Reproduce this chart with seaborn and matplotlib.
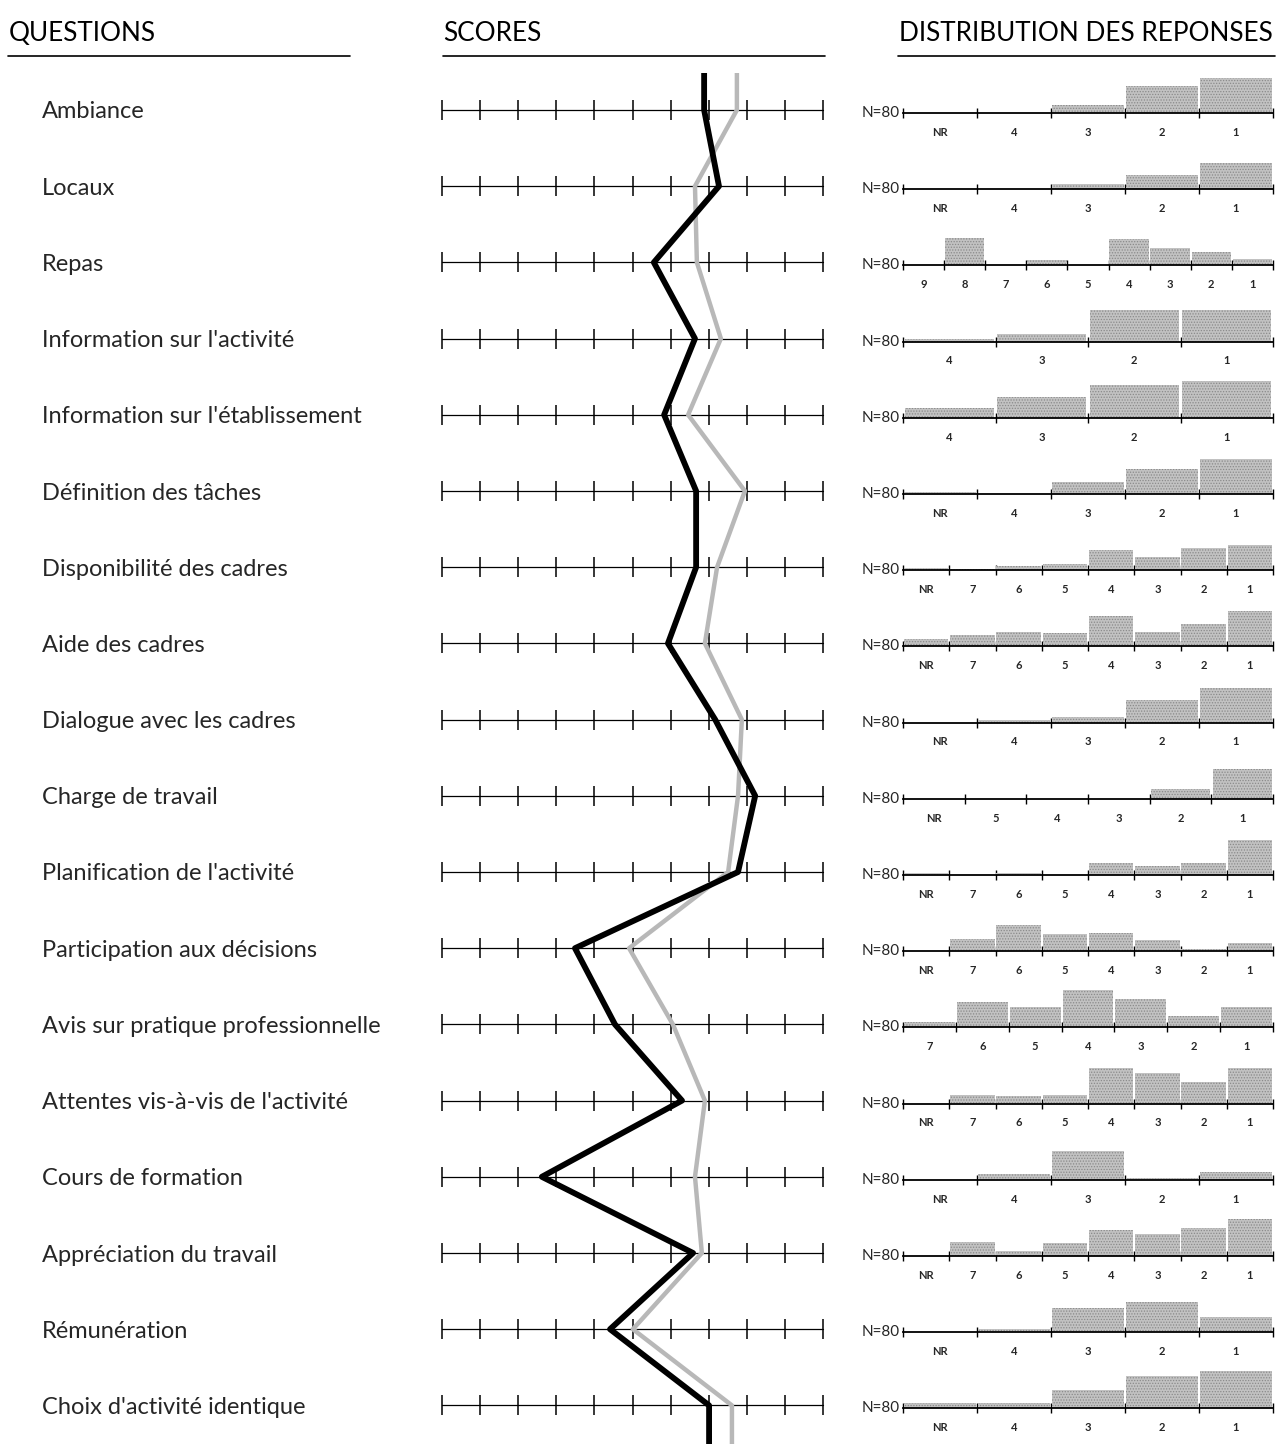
import numpy as np
import pandas as pd
import matplotlib
matplotlib.use("Agg")
import matplotlib.pyplot as plt
import matplotlib.transforms as mtransforms
from matplotlib.lines import Line2D
import seaborn as sns

sns.set_theme(style="white")
plt.rcParams['font.family'] = ['Lato', 'DejaVu Sans']
plt.rcParams['hatch.linewidth'] = 0.6

# Questions (one row each)
questions = [
    "Ambiance", "Locaux", "Repas", "Information sur l'activité",
    "Information sur l'établissement", "Définition des tâches",
    "Disponibilité des cadres", "Aide des cadres", "Dialogue avec les cadres",
    "Charge de travail", "Planification de l'activité",
    "Participation aux décisions", "Avis sur pratique professionnelle",
    "Attentes vis-à-vis de l'activité", "Cours de formation",
    "Appréciation du travail", "Rémunération", "Choix d'activité identique",
]

# Scores on a 0-10 scale
scores_black = [6.88, 7.27, 5.56, 6.64, 5.83, 6.67, 6.67, 5.93, 7.17,
                8.22, 7.77, 3.49, 4.54, 6.30, 2.62, 6.59, 4.41, 7.01]
scores_gray = [7.74, 6.64, 6.69, 7.32, 6.46, 7.95, 7.22, 6.90, 7.87,
               7.77, 7.51, 4.91, 6.06, 6.90, 6.64, 6.82, 5.01, 7.61]

# Distribution of answers: categories and bar heights per question
dist_cats = [
    ["NR", "4", "3", "2", "1"],
    ["NR", "4", "3", "2", "1"],
    ["9", "8", "7", "6", "5", "4", "3", "2", "1"],
    ["4", "3", "2", "1"],
    ["4", "3", "2", "1"],
    ["NR", "4", "3", "2", "1"],
    ["NR", "7", "6", "5", "4", "3", "2", "1"],
    ["NR", "7", "6", "5", "4", "3", "2", "1"],
    ["NR", "4", "3", "2", "1"],
    ["NR", "5", "4", "3", "2", "1"],
    ["NR", "7", "6", "5", "4", "3", "2", "1"],
    ["NR", "7", "6", "5", "4", "3", "2", "1"],
    ["7", "6", "5", "4", "3", "2", "1"],
    ["NR", "7", "6", "5", "4", "3", "2", "1"],
    ["NR", "4", "3", "2", "1"],
    ["NR", "7", "6", "5", "4", "3", "2", "1"],
    ["NR", "4", "3", "2", "1"],
    ["NR", "4", "3", "2", "1"],
]
dist_vals = [
    [0, 0, 8, 27, 35],
    [0, 0, 5, 14, 26],
    [0, 27, 0, 5, 0, 26, 17, 13, 6],
    [3, 8, 32, 32],
    [10, 21, 33, 37],
    [2, 0, 12, 25, 35],
    [2, 1, 4, 6, 20, 13, 22, 25],
    [7, 11, 14, 13, 30, 14, 22, 35],
    [0, 3, 6, 23, 35],
    [0, 0, 0, 0, 10, 30],
    [2, 0, 2, 0, 12, 9, 12, 35],
    [0, 12, 26, 17, 18, 11, 2, 8],
    [5, 25, 20, 37, 28, 11, 20],
    [0, 9, 8, 9, 36, 31, 22, 36],
    [0, 6, 29, 2, 8],
    [0, 14, 5, 13, 26, 22, 28, 37],
    [0, 3, 24, 30, 15],
    [5, 5, 18, 32, 37],
]
n_label = "N=80"

W, H = 1277, 1444
fig = plt.figure(figsize=(W / 100, H / 100), dpi=100)

def fx(px):
    return px / W

def fy(py):
    return 1 - py / H

row0, row_step = 110, 76.2
n_rows = len(questions)
rows = np.arange(n_rows)

# headers
head_kw = dict(fontsize=18.8, va='center_baseline', color='black')
fig.text(fx(9), fy(31), "QUESTIONS", ha='left', **head_kw)
fig.text(fx(443), fy(31), "SCORES", ha='left', **head_kw)
fig.text(fx(1273), fy(31), "DISTRIBUTION DES REPONSES", ha='right', **head_kw)
for x0, x1 in [(8, 350), (443, 825), (898, 1275)]:
    fig.add_artist(Line2D([fx(x0), fx(x1)], [fy(56), fy(56)], color='black', lw=1.2))

# scores panel
top_px, bot_px = 73, 1444
ax = fig.add_axes([fx(442), 0, fx(823) - fx(442), fy(top_px)])
ax.set_xlim(0, 10)
ax.set_ylim((bot_px - row0) / row_step, (top_px - row0) / row_step)
ax.axis('off')

ticks = np.arange(11)
for r in rows:
    ax.plot(ticks, np.full(ticks.size, r), color='black', lw=0.9,
            marker='|', ms=15, mew=1.1, clip_on=False)

y_lo, y_hi = ax.get_ylim()
line_y = np.concatenate([[y_hi], rows, [y_lo]])
df = pd.DataFrame({
    'y': np.concatenate([line_y, line_y]),
    'score': np.concatenate([[scores_gray[0]], scores_gray, [scores_gray[-1]],
                             [scores_black[0]], scores_black, [scores_black[-1]]]),
    'serie': ['gray'] * len(line_y) + ['black'] * len(line_y),
})
sns.lineplot(data=df[df.serie == 'gray'], x='score', y='y', sort=False, estimator=None,
             color='#b8b8b8', lw=3.2, ax=ax, legend=False)
sns.lineplot(data=df[df.serie == 'black'], x='score', y='y', sort=False, estimator=None,
             color='black', lw=4.2, ax=ax, legend=False)
ax.set_xlim(0, 10)
ax.set_ylim(y_lo, y_hi)
ax.axis('off')

# question labels
trans = mtransforms.blended_transform_factory(fig.transFigure, ax.transData)
for r, q in zip(rows, questions):
    ax.text(fx(42), r, q, transform=trans, ha='left', va='center_baseline', fontsize=17)

# distribution panels
for r, cats, vals in zip(rows, dist_cats, dist_vals):
    base_px = row0 + row_step * r + 3
    hx = fig.add_axes([fx(903), fy(base_px), fx(1273) - fx(903), 40 / H])
    hdf = pd.DataFrame({'cat': cats, 'val': vals})
    sns.barplot(data=hdf, x='cat', y='val', order=cats, color='#c2c2c2', width=0.96,
                saturation=1, ax=hx, edgecolor='#8a8a8a', linewidth=0, hatch='......')
    n = len(cats)
    hx.set_xlim(-0.5, n - 0.5)
    hx.set_ylim(0, 40)
    for s in ['top', 'right', 'left']:
        hx.spines[s].set_visible(False)
    hx.spines['bottom'].set_linewidth(1.3)
    hx.spines['bottom'].set_color('black')
    hx.set_yticks([])
    hx.set_xlabel('')
    hx.set_ylabel('')
    hx.set_xticks(np.arange(n))
    hx.set_xticklabels(cats, fontsize=8, fontweight='bold')
    hx.tick_params(axis='x', which='major', length=0, pad=10)
    hx.set_xticks(np.arange(n + 1) - 0.5, minor=True)
    hx.tick_params(axis='x', which='minor', length=7, width=1, direction='inout',
                   color='black', bottom=True)
    hx.text(-0.008, 0, n_label, transform=hx.transAxes, ha='right', va='center',
            fontsize=11)

fig.savefig('out.png', dpi=100, facecolor='white')
